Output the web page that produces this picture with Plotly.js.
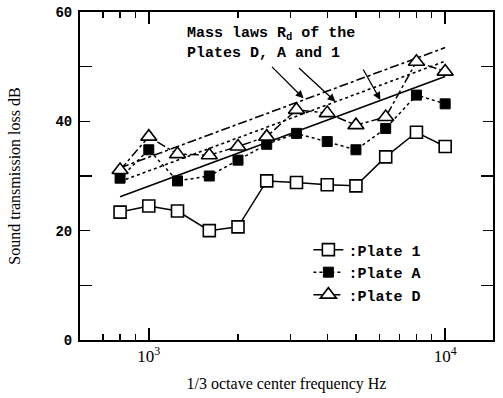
<!DOCTYPE html>
<html><head><meta charset="utf-8">
<script src="https://cdn.plot.ly/plotly-3.0.1.min.js"></script>
<style>html,body{margin:0;padding:0;background:#fff}#c{width:503px;height:398px}</style>
</head><body><div id="c"></div>
<script>
const freq = [800, 1000, 1250, 1600, 2000, 2500, 3150, 4000, 5000, 6300, 8000, 10000];
const plate1 = [23.4, 24.5, 23.6, 20.0, 20.7, 29.1, 28.8, 28.4, 28.2, 33.5, 38.0, 35.4];
const plateA = [29.6, 34.8, 29.1, 30.0, 32.9, 35.8, 37.8, 36.3, 34.8, 38.7, 44.8, 43.2];
const plateD = [31.1, 37.2, 34.0, 33.8, 35.4, 37.2, 42.1, 41.5, 39.3, 40.8, 50.9, 49.1];
const massFreq = [800, 10000];
const massD = [31.5, 53.5];
const massA = [29.0, 51.0];
const mass1 = [26.2, 48.2];
const seriesNames = [":Plate 1", ":Plate A", ":Plate D"];
const xMajor = [1000, 10000];
const xMajorText = ["10<sup>3</sup>", "10<sup>4</sup>"];
const xMinor = [700, 800, 900, 2000, 3000, 4000, 5000, 6000, 7000, 8000, 9000];

const traces = [
  {x: massFreq, y: massD, mode: 'lines', line: {color: '#000', width: 1.6, dash: 'dashdot'}, showlegend: false, hoverinfo: 'skip'},
  {x: massFreq, y: massA, mode: 'lines', line: {color: '#000', width: 1.6, dash: 'dot'}, showlegend: false, hoverinfo: 'skip'},
  {x: massFreq, y: mass1, mode: 'lines', line: {color: '#000', width: 1.6, dash: 'solid'}, showlegend: false, hoverinfo: 'skip'},
  {x: freq, y: plate1, name: seriesNames[0], mode: 'lines+markers',
   line: {color: '#000', width: 1.5, dash: 'solid'},
   marker: {symbol: 'square', size: 12, color: '#fff', line: {color: '#000', width: 1.6}}},
  {x: freq, y: plateA, name: seriesNames[1], mode: 'lines+markers',
   line: {color: '#000', width: 1.5, dash: 'dot'},
   marker: {symbol: 'square', size: 10, color: '#000', line: {color: '#000', width: 1}}},
  {x: freq, y: plateD, name: seriesNames[2], mode: 'lines+markers',
   line: {color: '#000', width: 1.5, dash: 'dashdot'},
   marker: {symbol: 'triangle-up', size: 14, color: '#fff', line: {color: '#000', width: 1.6}}}
];

const mono = 'Liberation Mono, Courier New, monospace';
const serif = 'Liberation Serif, Times New Roman, serif';

const layout = {
  width: 503, height: 398,
  margin: {l: 80, r: 10, t: 12, b: 58},
  paper_bgcolor: '#fff', plot_bgcolor: '#fff',
  showlegend: true,
  legend: {x: 0.553, y: 0.325, xanchor: 'left', yanchor: 'top', bgcolor: 'rgba(0,0,0,0)',
           font: {family: mono, size: 15, color: '#000', weight: 'bold'}, tracegroupgap: 0, itemwidth: 30},
  xaxis: {type: 'log', range: [Math.log10(586), Math.log10(14500)],
          tickmode: 'array', tickvals: xMajor, ticktext: xMajorText,
          ticks: 'inside', ticklen: 12, tickwidth: 1.5, tickcolor: '#000',
          minor: {tickmode: 'array', tickvals: xMinor, ticks: 'inside', ticklen: 6, tickwidth: 1.3, tickcolor: '#000'},
          showline: true, linecolor: '#000', linewidth: 2, mirror: 'ticks', showgrid: false, zeroline: false,
          tickfont: {family: serif, size: 17, color: '#000'},
          title: {text: '1/3 octave center frequency Hz', font: {family: serif, size: 16, color: '#000'}, standoff: 12}},
  yaxis: {range: [0, 60], tickmode: 'array', tickvals: [0, 20, 40, 60],
          ticks: 'inside', ticklen: 10, tickwidth: 1.5, tickcolor: '#000', ticklabelstandoff: 3,
          minor: {tickmode: 'array', tickvals: [10, 30, 50], ticks: 'inside', ticklen: 12, tickwidth: 1.5, tickcolor: '#000'},
          showline: true, linecolor: '#000', linewidth: 2, mirror: 'ticks', showgrid: false, zeroline: false,
          tickfont: {family: mono, size: 14, color: '#000', weight: 'bold'},
          title: {text: 'Sound transmission loss dB', font: {family: serif, size: 16, color: '#000'}, standoff: 31}},
  annotations: [
    {xref: 'paper', yref: 'paper', x: 0.255, y: 0.965, xanchor: 'left', yanchor: 'top', align: 'left', showarrow: false,
     text: 'Mass laws R<sub>d</sub> of the<br>Plates D, A and 1',
     font: {family: mono, size: 15, color: '#000', weight: 'bold'}},
    {x: Math.log10(3327), y: 44.2, ax: -33, ay: -33, showarrow: true, arrowhead: 2, arrowsize: 1.2, arrowwidth: 1.3, arrowcolor: '#000', text: ''},
    {x: Math.log10(4263), y: 43.6, ax: -38, ay: -35, showarrow: true, arrowhead: 2, arrowsize: 1.2, arrowwidth: 1.3, arrowcolor: '#000', text: ''},
    {x: Math.log10(6045), y: 43.9, ax: -18, ay: -32, showarrow: true, arrowhead: 2, arrowsize: 1.2, arrowwidth: 1.3, arrowcolor: '#000', text: ''}
  ]
};
Plotly.newPlot('c', traces, layout, {displayModeBar: false, staticPlot: true});
</script></body></html>
